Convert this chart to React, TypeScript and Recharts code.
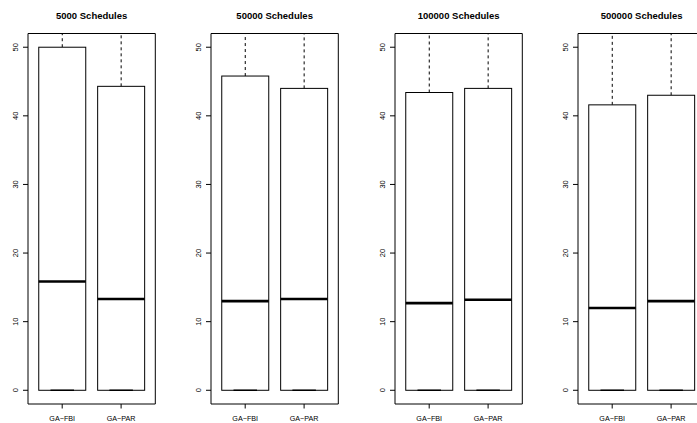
import React from "react";
import { ComposedChart, Bar, XAxis, YAxis } from "recharts";

// ---- data ----
const categories = ["GA−FBI", "GA−PAR"];
const panelTitles = ["5000 Schedules", "50000 Schedules", "100000 Schedules", "500000 Schedules"];
const lowerWhisker = [[0, 0], [0, 0], [0, 0], [0, 0]];
const q1Values = [[0, 0], [0, 0], [0, 0], [0, 0]];
const medianValues = [[15.85, 13.3], [13.0, 13.3], [12.7, 13.2], [12.0, 13.0]];
const q3Values = [[50.0, 44.3], [45.8, 44.0], [43.4, 44.0], [41.6, 43.0]];
// upper whiskers run past the top of the plotting region (clipped by ylim)
const upperWhisker = [[58, 58], [58, 58], [58, 58], [58, 58]];
const yTicks = [0, 10, 20, 30, 40, 50];
const yDomain = [-2, 52];

const FONT = '"Liberation Sans", Arial, Helvetica, sans-serif';

const PANEL_STEP = 183.5;
const PLOT_LEFT0 = 27.7;
const PLOT_W = 127.3;
const AXIS_W = 30;
const CHART_W = 160;
const CHART_H = 423;

function panelData(i: number) {
  return categories.map((name, j) => ({
    name,
    lo: lowerWhisker[i][j],
    q1: q1Values[i][j],
    med: medianValues[i][j],
    q3: q3Values[i][j],
    hi: upperWhisker[i][j],
    range: [lowerWhisker[i][j], upperWhisker[i][j]],
  }));
}

const BoxShape = (props: any) => {
  const { x, y, width, height, payload } = props;
  if (!payload) return null;
  const { lo, hi, q1, med, q3 } = payload;
  const toPx = (v: number) => y + (height * (hi - v)) / (hi - lo);
  const cx = x + width / 2;
  const yq1 = toPx(q1);
  const yq3 = toPx(q3);
  const ymed = toPx(med);
  const yhi = toPx(hi);
  const ylo = toPx(lo);
  return (
    <g>
      <line x1={cx} x2={cx} y1={yq3} y2={yhi} stroke="#000" strokeWidth={1} strokeDasharray="3 3" />
      <line x1={cx} x2={cx} y1={yq1} y2={ylo} stroke="#000" strokeWidth={1} strokeDasharray="3 3" />
      <line x1={cx - width / 4} x2={cx + width / 4} y1={yhi} y2={yhi} stroke="#000" strokeWidth={1} />
      <rect x={x} y={yq3} width={width} height={yq1 - yq3} fill="#fff" stroke="#000" strokeWidth={1} />
      <line x1={cx - width / 4} x2={cx + width / 4} y1={ylo} y2={ylo} stroke="#000" strokeWidth={1.5} />
      <line x1={x} x2={x + width} y1={ymed} y2={ymed} stroke="#000" strokeWidth={2.6} />
    </g>
  );
};

const YTick = (props: any) => {
  const { x, y, payload } = props;
  return (
    <text
      transform={`translate(${x - 5.2},${y}) rotate(-90)`}
      textAnchor="middle"
      fontSize={7.5}
      fontFamily={FONT}
      fill="#000"
    >
      {payload.value}
    </text>
  );
};

const XTick = (props: any) => {
  const { x, y, payload } = props;
  return (
    <text x={x} y={y + 12.5} textAnchor="middle" fontSize={7.2} fontFamily={FONT} fill="#000">
      {payload.value}
    </text>
  );
};

function Panel({ i }: { i: number }) {
  const plotLeft = PLOT_LEFT0 + PANEL_STEP * i;
  const chartLeft = plotLeft - AXIS_W;
  const data = panelData(i);
  return (
    <>
      <div style={{ position: "absolute", left: chartLeft, top: 0, width: CHART_W, height: CHART_H }}>
        <ComposedChart
          width={CHART_W}
          height={CHART_H}
          data={data}
          margin={{ top: 32.5, right: CHART_W - AXIS_W - PLOT_W - 1, bottom: 0, left: 0 }}
        >
          <XAxis
            dataKey="name"
            xAxisId={0}
            height={19}
            padding={{ left: 4.75, right: 4.75 }}
            tickSize={4.5}
            tickMargin={0}
            tick={<XTick />}
            axisLine={{ stroke: "#000", strokeWidth: 1 }}
            tickLine={{ stroke: "#000", strokeWidth: 1 }}
            interval={0}
          />
          <XAxis
            dataKey="name"
            xAxisId="top"
            orientation="top"
            height={1}
            padding={{ left: 4.75, right: 4.75 }}
            tick={false}
            tickLine={false}
            axisLine={{ stroke: "#000", strokeWidth: 1 }}
          />
          <YAxis
            yAxisId={0}
            width={AXIS_W}
            type="number"
            domain={yDomain}
            allowDataOverflow
            ticks={yTicks}
            interval={0}
            tickSize={5}
            tickMargin={0}
            tick={<YTick />}
            axisLine={{ stroke: "#000", strokeWidth: 1 }}
            tickLine={{ stroke: "#000", strokeWidth: 1 }}
          />
          <YAxis
            yAxisId="r"
            orientation="right"
            width={1}
            type="number"
            domain={yDomain}
            allowDataOverflow
            tick={false}
            tickLine={false}
            axisLine={{ stroke: "#000", strokeWidth: 1 }}
          />
          <Bar
            dataKey="range"
            xAxisId={0}
            yAxisId={0}
            barSize={47}
            shape={<BoxShape />}
            isAnimationActive={false}
          />
        </ComposedChart>
      </div>
      <svg
        style={{ position: "absolute", left: plotLeft, top: 0 }}
        width={PLOT_W}
        height={30}
      >
        <text
          x={PLOT_W / 2}
          y={19}
          textAnchor="middle"
          fontSize={9.5}
          fontWeight="bold"
          fontFamily={FONT}
          fill="#000"
        >
          {panelTitles[i]}
        </text>
      </svg>
    </>
  );
}

export default function App() {
  return (
    <div
      style={{
        position: "absolute",
        left: 0,
        top: 0,
        width: 697,
        height: 423,
        overflow: "hidden",
        background: "#fff",
      }}
    >
      {panelTitles.map((_, i) => (
        <Panel key={i} i={i} />
      ))}
    </div>
  );
}
